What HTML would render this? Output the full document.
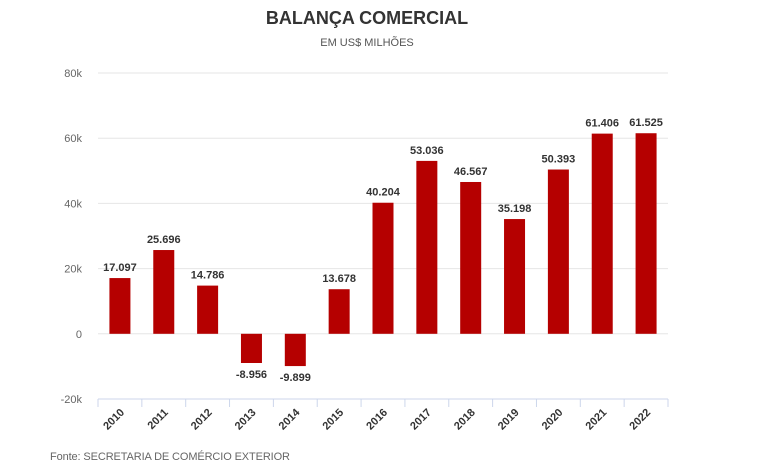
<!DOCTYPE html>
<html><head><meta charset="utf-8"><style>
body{margin:0;background:#fff;width:768px;height:470px;overflow:hidden;font-family:"Liberation Sans",sans-serif}
</style></head><body>
<svg width="768" height="470">
<text x="367" y="24" text-anchor="middle" font-size="18" font-weight="bold" fill="#333">BALANÇA COMERCIAL</text>
<text x="367" y="46" text-anchor="middle" font-size="11" fill="#555">EM US$ MILHÕES</text>
<g id="grid"></g><g id="bars"></g><g id="xaxis"></g>
<text x="50" y="460" font-size="11" fill="#666" textLength="240">Fonte: SECRETARIA DE COMÉRCIO EXTERIOR</text>
</svg>
<script>
const categories=["2010","2011","2012","2013","2014","2015","2016","2017","2018","2019","2020","2021","2022"];
const values=[17097,25696,14786,-8956,-9899,13678,40204,53036,46567,35198,50393,61406,61525];
const valueLabels=["17.097","25.696","14.786","-8.956","-9.899","13.678","40.204","53.036","46.567","35.198","50.393","61.406","61.525"];
const yTicks=[-20000,0,20000,40000,60000,80000];
const yTickLabels=["-20k","0","20k","40k","60k","80k"];
const NS="http://www.w3.org/2000/svg";
const x0=98,x1=668,yTop=73,yBot=399,vMin=-20000,vMax=80000;
const y=v=>yBot-(v-vMin)/(vMax-vMin)*(yBot-yTop);
const bw=(x1-x0)/categories.length;
const xc=i=>x0+bw*(i+0.5);
function mk(t,a,p){const e=document.createElementNS(NS,t);for(const k in a)e.setAttribute(k,a[k]);p.appendChild(e);return e;}
const g=document.getElementById('grid'),b=document.getElementById('bars'),xa=document.getElementById('xaxis');
yTicks.forEach((v,i)=>{
 if(v!==vMin){const l=mk('line',{x1:x0,x2:x1,y1:y(v),y2:y(v),stroke:'#e6e6e6'},g);
 
 }
 const t=mk('text',{x:82,y:y(v)+4,'text-anchor':'end','font-size':11,fill:'#666'},g);t.textContent=yTickLabels[i];
 
 
});
values.forEach((v,i)=>{
 const top=Math.min(y(v),y(0)),h=Math.abs(y(v)-y(0));
 const r=mk('rect',{x:xc(i)-10.5,y:top,width:21,height:h,fill:'#b50000'},b);
 
 
 const ly=v>=0?y(v)-7:y(v)+15;
 const t=mk('text',{x:xc(i),y:ly,'text-anchor':'middle','font-size':11,'font-weight':'bold',fill:'#333'},b);t.textContent=valueLabels[i];
 
 
});
const al=mk('line',{x1:x0,x2:x1,y1:yBot,y2:yBot,stroke:'#ccd6eb'},xa);


for(let i=0;i<=categories.length;i++){const tk=mk('line',{x1:x0+bw*i,x2:x0+bw*i,y1:yBot,y2:yBot+8,stroke:'#ccd6eb'},xa);
 
 }
categories.forEach((c,i)=>{
 const t=mk('text',{x:xc(i)+5,y:yBot+14,'text-anchor':'end','font-size':11,'font-weight':'bold',fill:'#333',transform:`rotate(-45 ${xc(i)+5} ${yBot+14})`},xa);
 t.textContent=c;
 
 
});
</script>
</body></html>
